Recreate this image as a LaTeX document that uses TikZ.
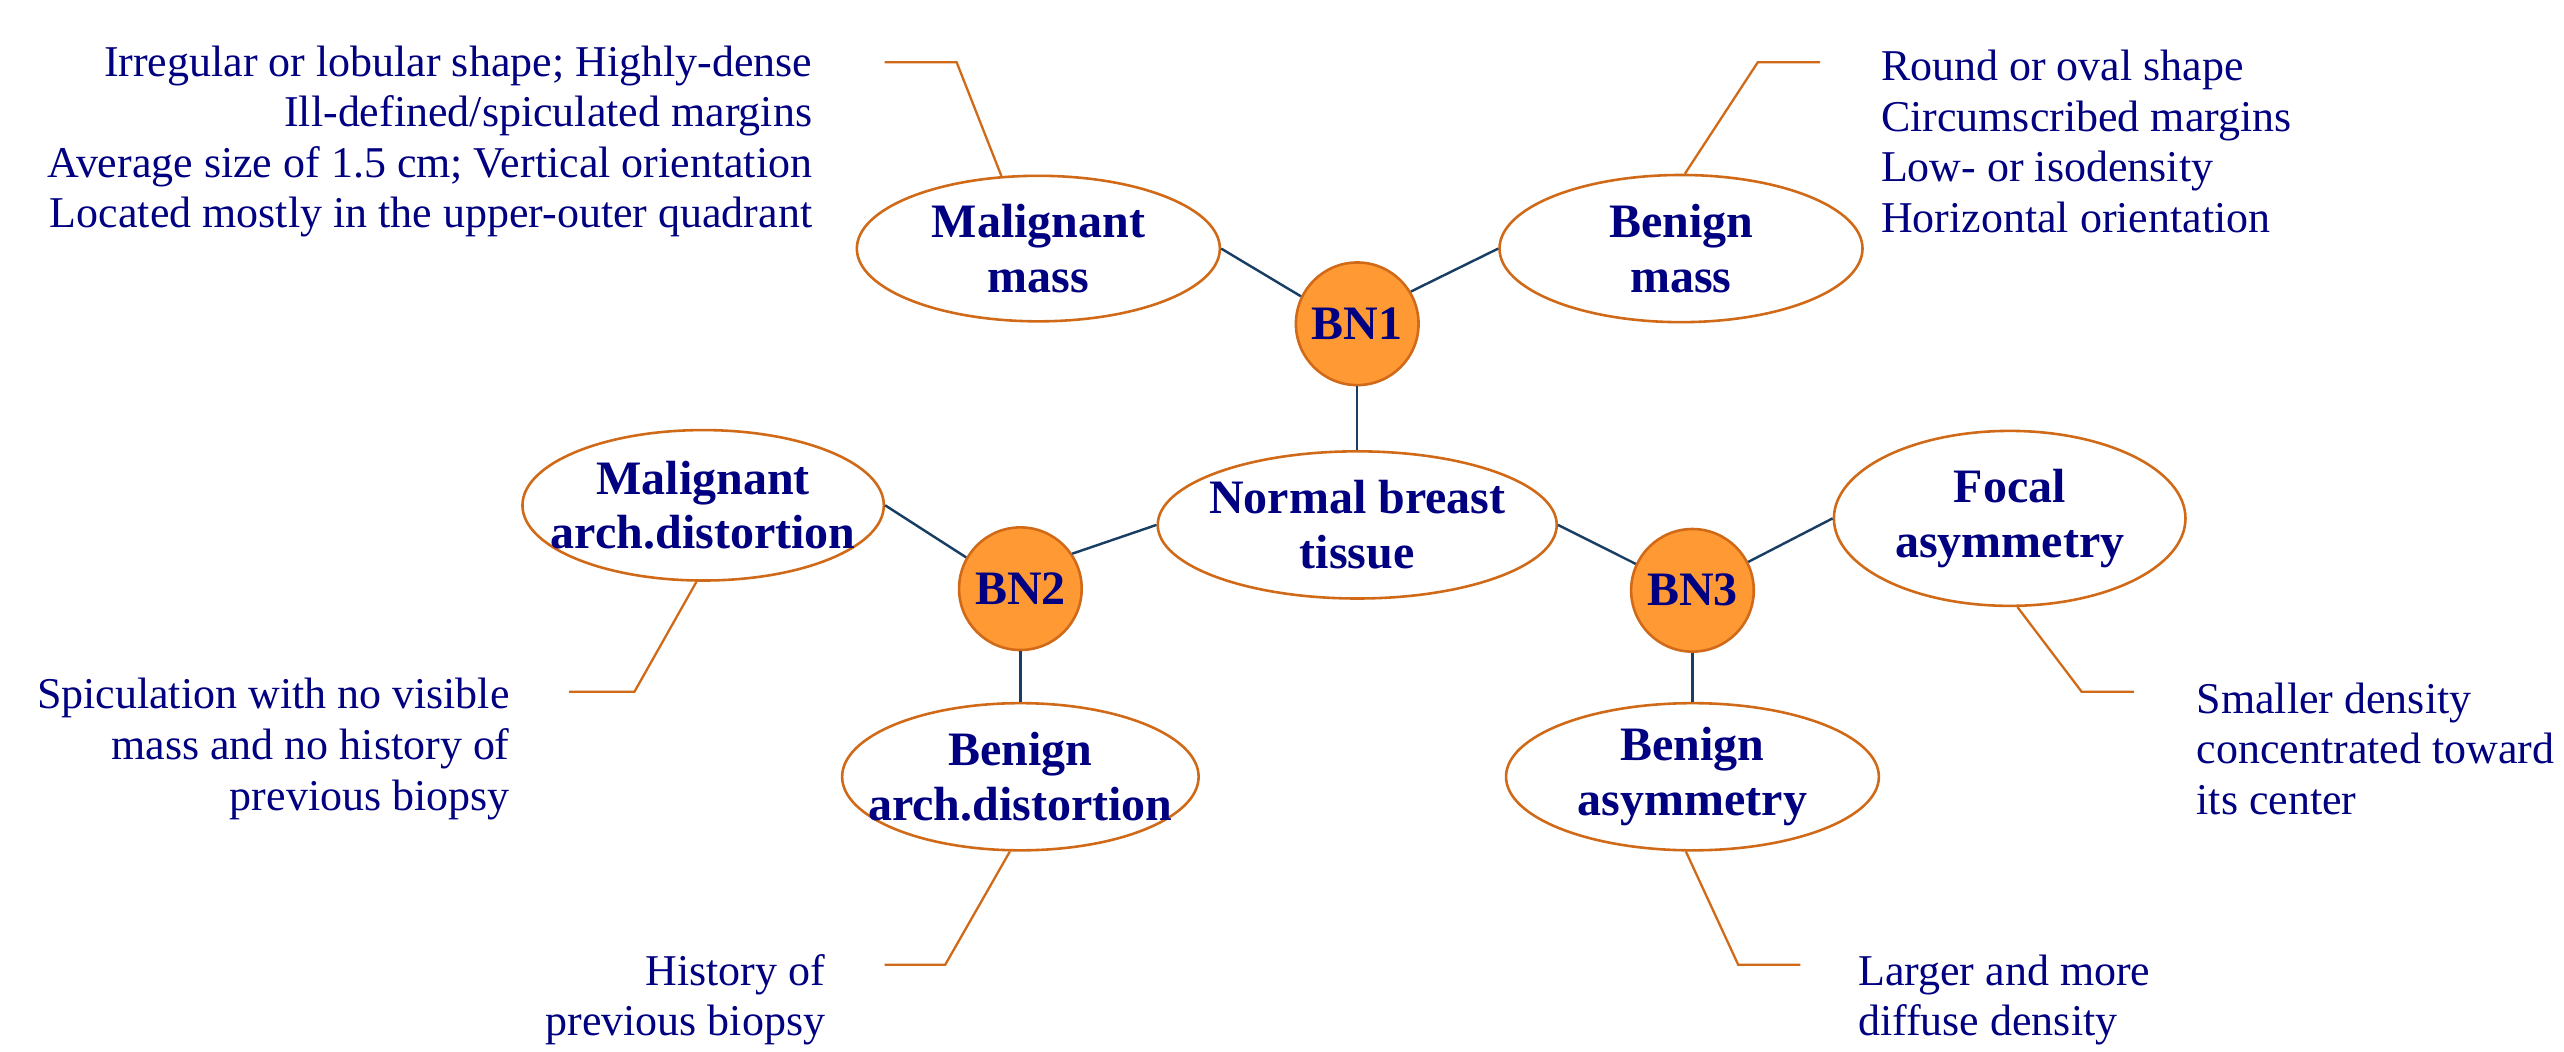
\documentclass[tikz,border=0pt]{standalone}
\usepackage{fontspec}
\setmainfont{Liberation Serif}
\usepackage{tikz}
\usetikzlibrary{shapes.geometric,positioning}

\definecolor{navytext}{RGB}{0,0,128}
\definecolor{edgeblue}{RGB}{24,62,100}
\definecolor{ovalline}{RGB}{208,106,24}
\definecolor{bnfill}{RGB}{255,153,51}

\begin{document}
\begin{tikzpicture}[
    x=1cm,
    y=1cm,
    oval/.style={draw=ovalline, line width=0.9pt, ellipse, align=center, inner xsep=-1.5cm, inner ysep=-0.4cm, text=navytext, font=\fontsize{16.7}{19}\selectfont\bfseries},
    bnode/.style={draw=ovalline, line width=0.9pt, circle, fill=bnfill, minimum size=1.5cm, inner sep=0pt, text=navytext, font=\fontsize{16.7}{19}\selectfont\bfseries},
    note/.style={align=left, inner sep=0pt, text=navytext, font=\fontsize{15.3}{17.6}\selectfont},
    edge/.style={draw=edgeblue, line width=0.85pt},
    callout/.style={draw=ovalline, line width=0.8pt}
]
\useasboundingbox (0,0) rectangle (31.36,-12.86);

\node[oval, minimum width=4.88cm, minimum height=1.80cm] (normal) at (16.60,-6.42) {Normal breast\\tissue};
\node[bnode] (bn1) at (16.60,-3.96) {BN1};
\node[bnode] (bn2) at (12.48,-7.20) {BN2};
\node[bnode] (bn3) at (20.70,-7.22) {BN3};
\node[oval, minimum width=4.44cm, minimum height=1.78cm] (mmass) at (12.70,-3.04) {Malignant\\mass};
\node[oval, minimum width=4.44cm, minimum height=1.80cm] (bmass) at (20.56,-3.04) {Benign\\mass};
\node[oval, minimum width=4.42cm, minimum height=1.84cm] (march) at (8.60,-6.18) {Malignant\\arch.distortion};
\node[oval, minimum width=4.36cm, minimum height=1.80cm] (barch) at (12.48,-9.50) {Benign\\arch.distortion};
\node[oval, minimum width=4.30cm, minimum height=2.14cm] (focal) at (24.58,-6.34) {Focal\\asymmetry};
\node[oval, minimum width=4.56cm, minimum height=1.80cm] (basym) at (20.70,-9.50) {Benign\\asymmetry};

\draw[edge] (mmass.east) -- (bn1.154);
\draw[edge] (bmass.west) -- (bn1.31);
\draw[edge] (bn1.south) -- (normal.north);
\draw[edge] (march.east) -- (bn2.150);
\draw[edge] (bn2.34) -- (normal.west);
\draw[edge] (bn2.south) -- (barch.north);
\draw[edge] (normal.east) -- (bn3.155);
\draw[edge] (bn3.27) -- (focal.west);
\draw[edge] (bn3.south) -- (basym.north);

% callouts to the descriptions
\coordinate (mmassknee) at (11.70,-0.76);
\coordinate (bmassknee) at (21.50,-0.76);
\coordinate (marchknee) at (7.76,-8.46);
\coordinate (barchknee) at (11.56,-11.80);
\coordinate (focalknee) at (25.46,-8.46);
\coordinate (basymknee) at (21.26,-11.80);
\draw[callout] (mmass.117) -- (mmassknee) -- ++(-0.88,0);
\draw[callout] (bmass.87) -- (bmassknee) -- ++(0.76,0);
\draw[callout] (march.265) -- (marchknee) -- ++(-0.80,0);
\draw[callout] (barch.262) -- (barchknee) -- ++(-0.74,0);
\draw[callout] (focal.275) -- (focalknee) -- ++(0.64,0);
\draw[callout] (basym.265) -- (basymknee) -- ++(0.76,0);

\node[note, align=right, anchor=east] (mmassnote) at (9.94,-1.73) {Irregular or lobular shape; Highly-dense\\Ill-defined/spiculated margins\\Average size of 1.5 cm; Vertical orientation\\Located mostly in the upper-outer quadrant};
\node[note, anchor=west] (bmassnote) at (23.00,-1.73) {Round or oval shape\\Circumscribed margins\\Low- or isodensity\\Horizontal orientation};
\node[note, align=right, anchor=east] (marchnote) at (6.24,-9.16) {Spiculation with no visible\\mass and no history of\\previous biopsy};
\node[note, align=right, anchor=east] (barchnote) at (10.10,-12.23) {History of\\previous biopsy};
\node[note, anchor=west] (focalnote) at (26.86,-9.16) {Smaller density\\concentrated toward\\its center};
\node[note, anchor=west] (basymnote) at (22.72,-12.23) {Larger and more\\diffuse density};
\end{tikzpicture}
\end{document}
